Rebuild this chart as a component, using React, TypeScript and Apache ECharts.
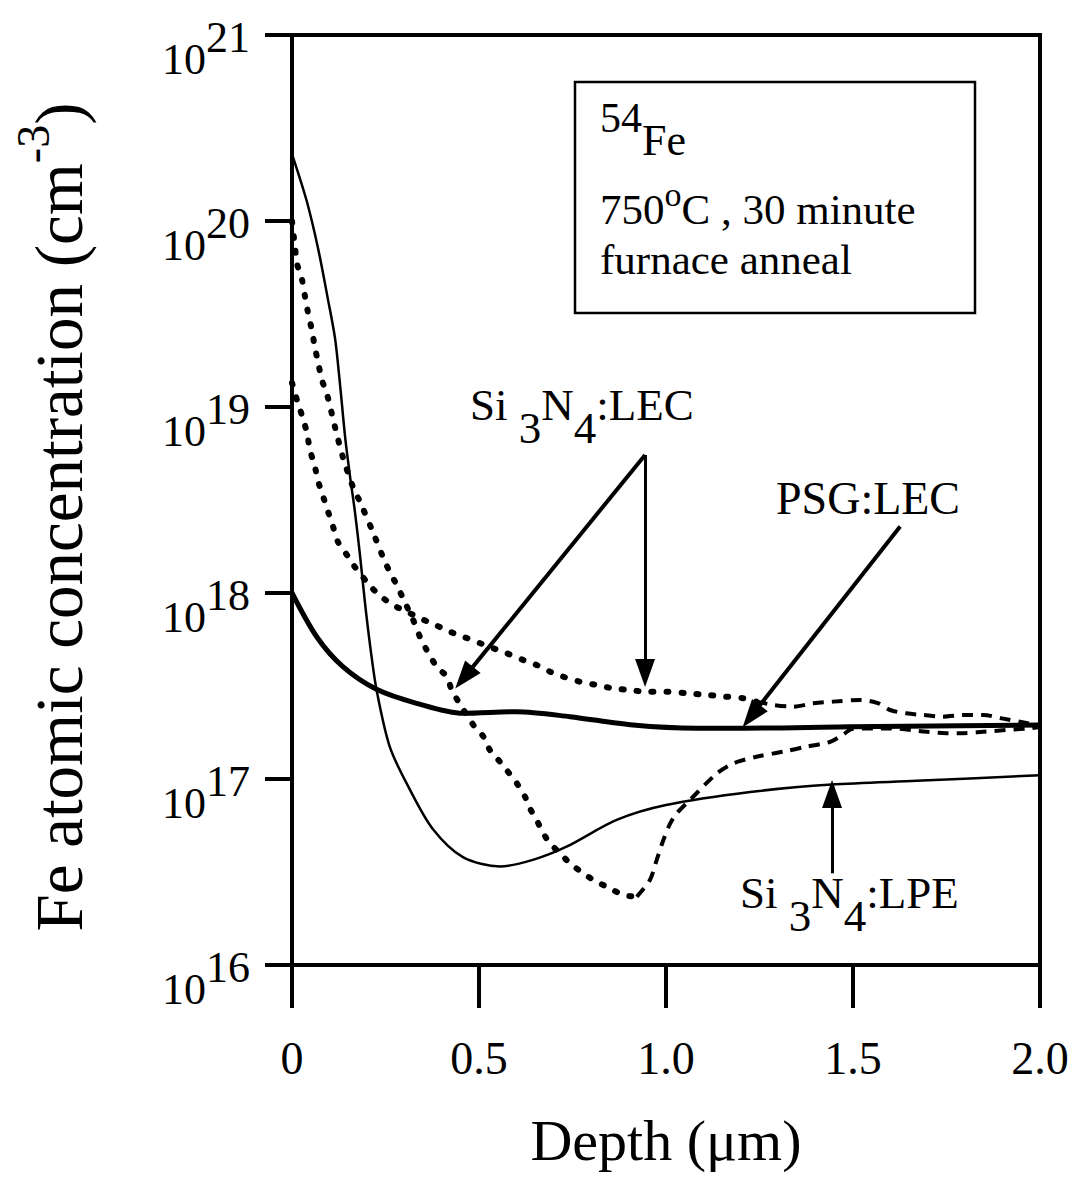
import React, { useEffect, useRef } from 'react';
import * as echarts from 'echarts';

const FONT = '"Liberation Serif", "Times New Roman", Times, serif';

// x axis ticks (Depth, µm)
const xTicks = [0, 0.5, 1.0, 1.5, 2.0];
// y axis decades (log10 of Fe concentration, cm^-3)
const yMinExp = 16;
const yMaxExp = 21;

// Curves: [depth (µm), log10(concentration)]
const lpeSolid: number[][] = [
  [0, 20.36], [0.039, 20.11], [0.07, 19.85], [0.096, 19.58], [0.115, 19.37], [0.128, 19.13],
  [0.142, 18.84], [0.155, 18.63], [0.168, 18.44], [0.182, 18.2], [0.195, 17.95], [0.21, 17.7],
  [0.226, 17.48], [0.262, 17.17], [0.316, 16.94], [0.377, 16.73], [0.457, 16.58], [0.556, 16.53],
  [0.644, 16.565], [0.734, 16.636], [0.868, 16.78], [1.0, 16.86], [1.225, 16.93], [1.443, 16.97],
  [1.67, 16.99], [2.0, 17.02],
];

const psgSolid: number[][] = [
  [0, 18.0], [0.066, 17.765], [0.136, 17.604], [0.226, 17.482], [0.333, 17.407], [0.457, 17.353],
  [0.601, 17.362], [0.743, 17.335], [0.912, 17.29], [1.082, 17.273], [1.2, 17.273], [1.492, 17.281],
  [2.0, 17.29],
];

const lecShallowDotted: number[][] = [
  [0, 19.13], [0.016, 19.02], [0.029, 18.94], [0.04, 18.86], [0.048, 18.77], [0.061, 18.68],
  [0.07, 18.6], [0.083, 18.52], [0.096, 18.44], [0.11, 18.355], [0.123, 18.274], [0.147, 18.204],
  [0.168, 18.14], [0.214, 18.027], [0.243, 17.973], [0.275, 17.93], [0.307, 17.9], [0.342, 17.864],
  [0.374, 17.837], [0.422, 17.792], [0.458, 17.765], [0.503, 17.73], [0.538, 17.703], [0.574, 17.676],
  [0.618, 17.64], [0.654, 17.613], [0.69, 17.577], [0.725, 17.55], [0.77, 17.523], [0.815, 17.505],
  [0.859, 17.487], [0.904, 17.478], [0.948, 17.469], [1.002, 17.469], [1.055, 17.461], [1.109, 17.452],
  [1.158, 17.443], [1.207, 17.434], [1.242, 17.416],
];

const lecShallowDashed: number[][] = [
  [1.242, 17.416], [1.287, 17.398], [1.34, 17.389], [1.394, 17.407], [1.447, 17.416], [1.519, 17.425],
  [1.568, 17.407], [1.599, 17.371], [1.643, 17.353], [1.688, 17.344], [1.741, 17.335], [1.795, 17.344],
  [1.848, 17.344], [1.898, 17.326], [1.964, 17.301], [2.0, 17.29],
];

const lecDeepDotted: number[][] = [
  [0, 20.0], [0.008, 19.86], [0.013, 19.774], [0.027, 19.683], [0.035, 19.591], [0.043, 19.505],
  [0.053, 19.414], [0.061, 19.323], [0.07, 19.237], [0.08, 19.145], [0.094, 19.065], [0.115, 18.892],
  [0.136, 18.731], [0.163, 18.57], [0.182, 18.489], [0.214, 18.339], [0.243, 18.194], [0.262, 18.11],
  [0.281, 18.04], [0.297, 17.97], [0.324, 17.855], [0.342, 17.765], [0.36, 17.694], [0.387, 17.604],
  [0.414, 17.55], [0.427, 17.478], [0.445, 17.416], [0.485, 17.29], [0.512, 17.227], [0.529, 17.156],
  [0.552, 17.102], [0.574, 17.048], [0.601, 16.977], [0.623, 16.905], [0.636, 16.843], [0.654, 16.78],
  [0.672, 16.708], [0.69, 16.654], [0.717, 16.6], [0.743, 16.547], [0.779, 16.493], [0.806, 16.457],
  [0.85, 16.412], [0.886, 16.376], [0.922, 16.367],
];

const lecDeepDashed: number[][] = [
  [0.922, 16.367], [0.957, 16.457], [0.975, 16.564], [0.993, 16.672], [1.011, 16.76], [1.029, 16.816],
  [1.064, 16.887], [1.136, 17.03], [1.18, 17.084], [1.242, 17.12], [1.314, 17.147], [1.376, 17.174],
  [1.439, 17.2], [1.474, 17.24], [1.5, 17.27], [1.6, 17.272], [1.697, 17.254], [1.75, 17.246],
  [1.795, 17.246], [1.848, 17.254], [1.973, 17.273], [2.0, 17.28],
];

// Annotation arrows: from [x, log10], to [x, log10] (arrowhead centre)
const arrows = [
  { from: [0.944, 18.742], to: [0.46, 17.545], width: 4 },
  { from: [0.944, 18.742], to: [0.944, 17.57], width: 3 },
  { from: [1.626, 18.357], to: [1.228, 17.338], width: 4 },
  { from: [1.444, 16.493], to: [1.444, 16.92], width: 3 },
];

const toData = (arr: number[][]) => arr.map(([x, l]) => [x, Math.pow(10, l)]);

export default function App() {
  const ref = useRef<HTMLDivElement>(null);

  useEffect(() => {
    if (!ref.current) return;
    const chart = echarts.init(ref.current, null, { renderer: 'svg' });

    const black = '#000';
    const lineBase = { type: 'line', showSymbol: false, symbol: 'none', silent: true, smooth: 0.3 };
    const dotted = { color: black, width: 6, type: [2, 13], cap: 'round' };
    const dashed = { color: black, width: 4, type: [11, 8] };

    const txt = (size: number) => ({ fontFamily: FONT, fontSize: size, fill: black });
    const box = (h: number, va: string) => ({ height: h, lineHeight: h, verticalAlign: va });

    chart.setOption({
      animation: false,
      backgroundColor: '#fff',
      grid: {
        left: 292, right: 48, top: 35, bottom: 222,
        show: true, borderColor: black, borderWidth: 4, backgroundColor: 'transparent',
      },
      xAxis: {
        type: 'value', min: xTicks[0], max: xTicks[xTicks.length - 1], interval: 0.5,
        axisLine: { lineStyle: { color: black, width: 4 } },
        axisTick: { length: 43, lineStyle: { color: black, width: 4 } },
        axisLabel: {
          margin: 70, fontSize: 46, fontFamily: FONT, color: black,
          formatter: (v: number) => (v === 0 ? '0' : v.toFixed(1)),
        },
        splitLine: { show: false },
      },
      yAxis: {
        type: 'log', logBase: 10, min: Math.pow(10, yMinExp), max: Math.pow(10, yMaxExp),
        axisLine: { lineStyle: { color: black, width: 4 } },
        axisTick: { length: 27, lineStyle: { color: black, width: 4 } },
        minorTick: { show: false },
        axisLabel: {
          margin: 42,
          verticalAlign: 'top',
          formatter: (v: number) => `{b|10}{s|${Math.round(Math.log10(v))}}`,
          rich: {
            b: { fontFamily: FONT, fontSize: 44, color: black, ...box(48, 'bottom') },
            s: { fontFamily: FONT, fontSize: 44, color: black, ...box(4, 'top') },
          },
        },
        splitLine: { show: false },
      },
      series: [
        { ...lineBase, name: 'Si3N4:LPE', data: toData(lpeSolid), lineStyle: { color: black, width: 2.5 } },
        {
          ...lineBase, name: 'PSG:LEC', data: toData(psgSolid), lineStyle: { color: black, width: 5 },
          markLine: {
            silent: true, animation: false,
            symbol: ['none', 'triangle'], symbolSize: [20, 28],
            label: { show: false },
            emphasis: { disabled: true },
            lineStyle: { color: black, type: 'solid', width: 4 },
            data: arrows.map((a) => [
              { coord: [a.from[0], Math.pow(10, a.from[1])], lineStyle: { color: black, width: a.width, type: 'solid' } },
              { coord: [a.to[0], Math.pow(10, a.to[1])] },
            ]),
          },
        },
        { ...lineBase, name: 'Si3N4:LEC a', data: toData(lecShallowDotted), lineStyle: dotted },
        { ...lineBase, name: 'Si3N4:LEC a2', data: toData(lecShallowDashed), lineStyle: dashed },
        { ...lineBase, name: 'Si3N4:LEC b', data: toData(lecDeepDotted), lineStyle: dotted },
        { ...lineBase, name: 'Si3N4:LEC b2', data: toData(lecDeepDashed), lineStyle: dashed },
      ],
      graphic: [
        { type: 'rect', z: 50, shape: { x: 575, y: 82, width: 400, height: 231 }, style: { fill: '#fff', stroke: black, lineWidth: 2.5 } },
        {
          type: 'text', z: 60, x: 600, y: 108,
          style: {
            text: '{s|54}{b|Fe}', verticalAlign: 'top',
            rich: {
              s: { ...txt(42), ...box(20, 'top') },
              b: { ...txt(44), ...box(64, 'bottom') },
            },
          },
        },
        {
          type: 'text', z: 60, x: 600, y: 186,
          style: {
            text: '{b|750}{s|o}{b|C , 30 minute}', verticalAlign: 'top',
            rich: {
              b: { ...txt(43), ...box(46, 'bottom') },
              s: { ...txt(34), ...box(16, 'top') },
            },
          },
        },
        {
          type: 'text', z: 60, x: 600, y: 240,
          style: {
            text: '{b|furnace anneal}', verticalAlign: 'top',
            rich: { b: { ...txt(43), ...box(38, 'top') } },
          },
        },
        {
          type: 'text', z: 60, x: 470, y: 385,
          style: {
            text: '{b|Si }{s|3}{b|N}{s|4}{b|:LEC}', verticalAlign: 'top',
            rich: {
              b: { ...txt(45), ...box(40, 'top') },
              s: { ...txt(45), ...box(86, 'bottom') },
            },
          },
        },
        { type: 'text', z: 60, x: 776, y: 498, style: { text: 'PSG:LEC', ...txt(46), verticalAlign: 'middle' } },
        {
          type: 'text', z: 60, x: 740, y: 873,
          style: {
            text: '{b|Si }{s|3}{b|N}{s|4}{b|:LPE}', verticalAlign: 'top',
            rich: {
              b: { ...txt(45), ...box(40, 'top') },
              s: { ...txt(45), ...box(86, 'bottom') },
            },
          },
        },
        {
          type: 'text', z: 60, x: 59, y: 517, rotation: Math.PI / 2,
          style: {
            text: '{b|Fe atomic concentration (cm}{s|-3}{b|)}', align: 'center', verticalAlign: 'middle',
            rich: {
              b: { ...txt(67), ...box(80, 'bottom') },
              s: { ...txt(46), ...box(28, 'top') },
            },
          },
        },
        { type: 'text', z: 60, x: 666, y: 1140, style: { text: 'Depth (μm)', ...txt(58), align: 'center', verticalAlign: 'middle' } },
      ],
    });

    return () => chart.dispose();
  }, []);

  return <div ref={ref} style={{ position: 'absolute', left: 0, top: 0, width: 1088, height: 1187 }} />;
}
